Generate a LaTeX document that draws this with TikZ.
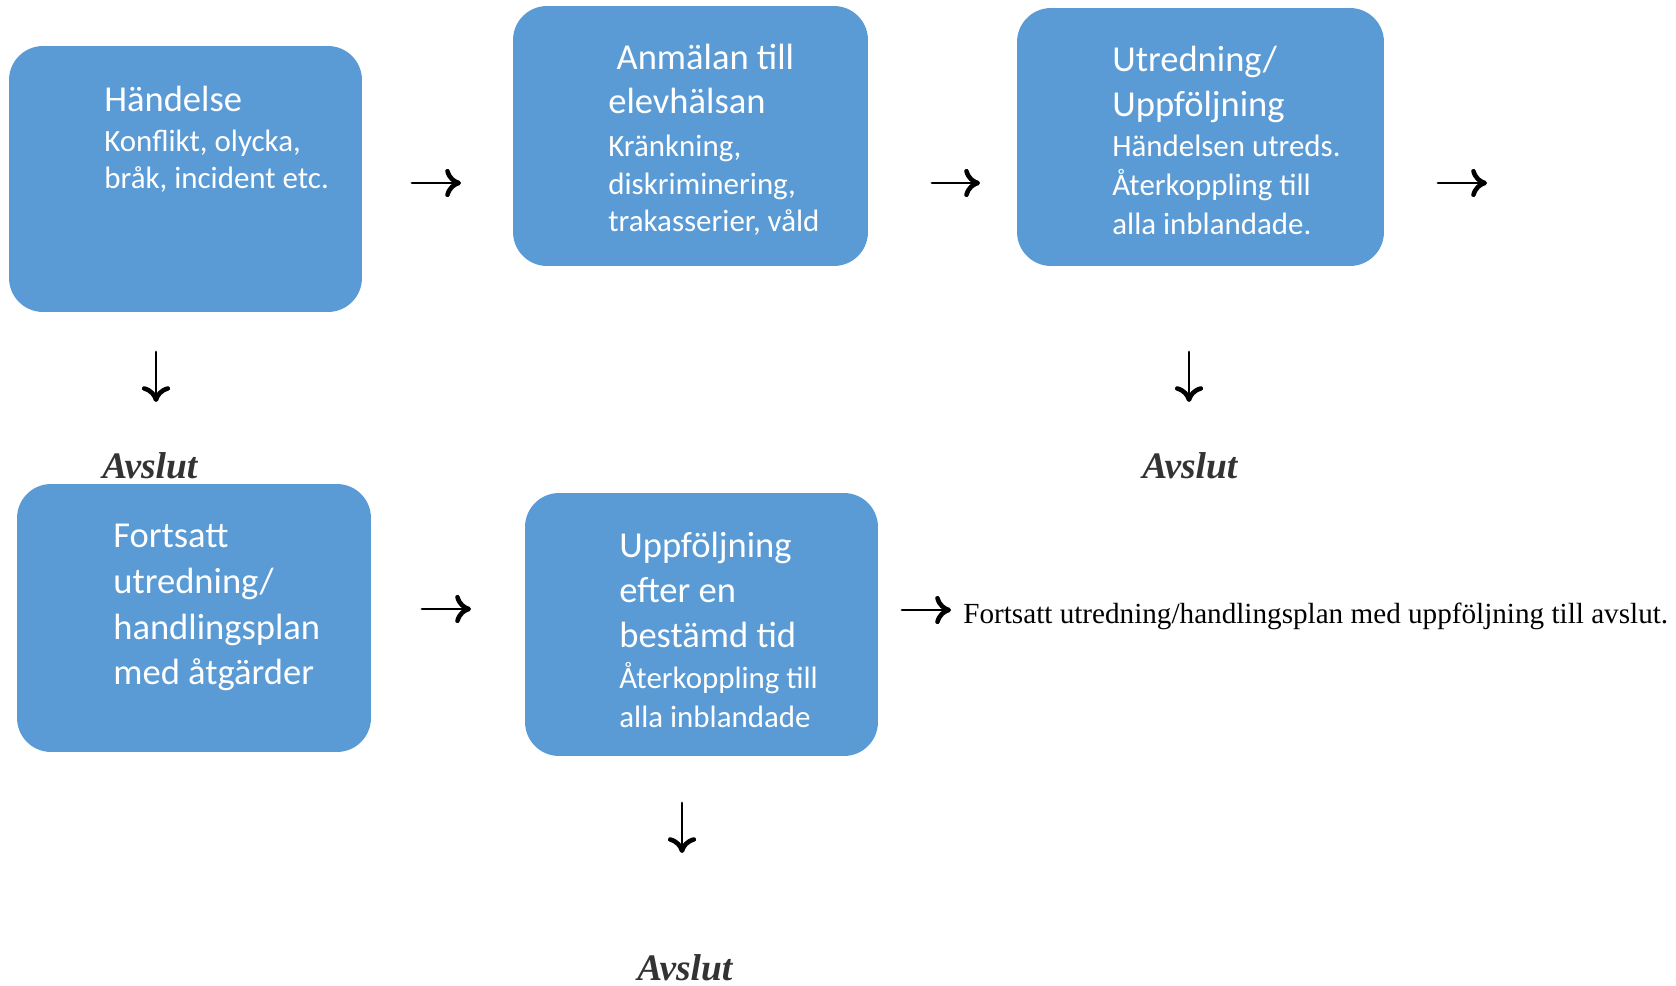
\documentclass[tikz,border=0pt]{standalone}
\usepackage{fontspec}
\setmainfont{Liberation Serif}
\newfontfamily\boxfont{Carlito}
\usetikzlibrary{arrows.meta}
\definecolor{boxblue}{HTML}{5B9BD5}
\definecolor{endgray}{HTML}{333333}
\newcommand\bigline{\fontsize{20.8}{21.6}\selectfont}
\newcommand\smallline[1]{{\fontsize{17.6}{21.6}\selectfont #1}}
\tikzset{
    stepbox/.style={fill=boxblue, rounded corners=0.68cm, inner sep=0pt},
    % base anchor sits on the last line
    steptext/.style={text=white, align=left, anchor=base west, inner sep=0pt, font=\boxfont\bigline},
    endlabel/.style={anchor=base west, inner sep=0pt, text=endgray, font=\fontsize{21.3}{24}\selectfont\bfseries\itshape},
    flowarrow/.style={line width=1.6pt, line cap=round, -{To[length=9pt,width=16pt,line width=2.6pt]}},
}

\begin{document}
\begin{tikzpicture}[x=0.02cm, y=-0.02cm]
    \useasboundingbox (0,0) rectangle (1676,986);
    % boxes
    \node[stepbox, minimum width=7.06cm, minimum height=5.32cm] (handelse) at (185.5,179) {};
    \node[stepbox, minimum width=7.10cm, minimum height=5.20cm] (anmalan) at (690.5,136) {};
    \node[stepbox, minimum width=7.34cm, minimum height=5.16cm] (utredning) at (1200.5,137) {};
    \node[stepbox, minimum width=7.08cm, minimum height=5.36cm] (fortsatt) at (194,618) {};
    \node[stepbox, minimum width=7.06cm, minimum height=5.26cm] (uppfoljning) at (701.5,624.5) {};
    % box texts
    \node[steptext] (handelse text) at (104,189) {H\"andelse\\[1pt]
        \smallline{Konflikt, olycka,}\\
        \smallline{br\aa k, incident etc.}};
    \node[steptext] (anmalan text) at (608,232) {\ Anm\"alan till\\[3.5pt]
        elevh\"alsan\\[2.5pt]
        \smallline{Kr\"ankning,}\\
        \smallline{diskriminering,}\\
        \smallline{trakasserier, v\aa ld}};
    \node[steptext] (utredning text) at (1112,235) {Utredning/\\[4pt]
        Uppf\"oljning\\[1.7pt]
        \smallline{H\"andelsen utreds.}\\[0.6pt]
        \smallline{\AA terkoppling till}\\[0.6pt]
        \smallline{alla inblandade.}};
    \node[steptext] (fortsatt text) at (113,684) {Fortsatt\\[4.5pt]
        utredning/\\[4.5pt]
        handlingsplan\\[4pt]
        med \aa tg\"arder};
    \node[steptext] (uppfoljning text) at (619,727) {Uppf\"oljning\\[4.5pt]
        efter en\\[3.5pt]
        best\"amd tid\\[1.7pt]
        \smallline{\AA terkoppling till}\\[0.6pt]
        \smallline{alla inblandade}};
    % end labels
    \node[endlabel] (avslut a) at (102,478) {Avslut};
    \node[endlabel] (avslut b) at (1142,478) {Avslut};
    \node[endlabel] (avslut c) at (637,980) {Avslut};
    \node[anchor=base west, inner sep=0pt, font=\fontsize{16.6}{19}\selectfont] (vidare) at (963,623)
        {Fortsatt utredning/handlingsplan med uppf\"oljning till avslut.};
    % arrows
    \coordinate (r1s) at (412,183);  \coordinate (r1e) at (461,183);
    \coordinate (r2s) at (932,183);  \coordinate (r2e) at (980,183);
    \coordinate (r3s) at (1438,183); \coordinate (r3e) at (1487,183);
    \coordinate (r4s) at (422,609);  \coordinate (r4e) at (471,609);
    \coordinate (r5s) at (902,610);  \coordinate (r5e) at (951,610);
    \coordinate (d1s) at (156,352);  \coordinate (d1e) at (156,402);
    \coordinate (d2s) at (1189,352); \coordinate (d2e) at (1189,402);
    \coordinate (d3s) at (682,803);  \coordinate (d3e) at (682,853);
    \foreach \a in {r1,r2,r3,r4,r5,d1,d2,d3}
        \draw[flowarrow] (\a s) -- (\a e);
\end{tikzpicture}
\end{document}
